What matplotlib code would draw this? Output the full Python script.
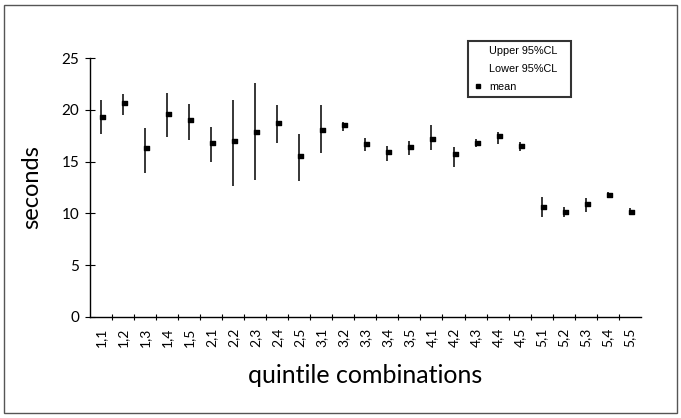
import matplotlib.pyplot as plt
import numpy as np
from matplotlib.path import Path
from matplotlib.lines import Line2D
from matplotlib.patches import Rectangle

# combinaisons de quintiles
labels = ["1,1", "1,2", "1,3", "1,4", "1,5",
          "2,1", "2,2", "2,3", "2,4", "2,5",
          "3,1", "3,2", "3,3", "3,4", "3,5",
          "4,1", "4,2", "4,3", "4,4", "4,5",
          "5,1", "5,2", "5,3", "5,4", "5,5"]

mean = [19.3, 20.7, 16.3, 19.6, 19.0,
        16.8, 17.0, 17.9, 18.7, 15.5,
        18.1, 18.5, 16.7, 15.9, 16.4,
        17.2, 15.7, 16.8, 17.5, 16.5,
        10.6, 10.1, 10.9, 11.8, 10.1]

upper = [21.0, 21.5, 18.2, 21.6, 20.6,
         18.3, 21.0, 22.6, 20.5, 17.7,
         20.5, 18.8, 17.3, 16.5, 17.0,
         18.5, 16.4, 17.2, 17.9, 16.9,
         11.6, 10.6, 11.5, 12.1, 10.5]

lower = [17.7, 19.5, 13.9, 17.4, 17.1,
         15.0, 12.6, 13.2, 16.8, 13.1,
         15.8, 18.0, 16.0, 15.1, 15.6,
         16.1, 14.5, 16.4, 16.7, 16.0,
         9.6, 9.6, 10.1, 11.5, 9.8]

x = np.arange(len(labels))

fig = plt.figure(figsize=(6.81, 4.18), dpi=100)
ax = fig.add_axes([0.132, 0.242, 0.809, 0.619])

# barres haut-bas
ax.vlines(x, lower, upper, color="black", lw=1.1)

# marqueur moyenne decale a droite (style excel)
verts = [(-0.2, -0.4), (1.0, -0.4), (1.0, 0.4), (-0.2, 0.4), (-0.2, -0.4)]
mk = Path(verts, [Path.MOVETO, Path.LINETO, Path.LINETO, Path.LINETO, Path.CLOSEPOLY])
ax.plot(x, mean, linestyle="none", marker=mk, markersize=6, color="black")

ax.set_xlim(-0.5, 24.5)
ax.set_ylim(0, 25)
ax.set_yticks([0, 5, 10, 15, 20, 25])
ax.set_xticks(x)
ax.set_xticklabels(labels, rotation=90, fontsize=10, family="Lato")
ax.set_xticks(np.arange(0.5, 24.5, 1), minor=True)
ax.tick_params(axis="x", which="major", length=0, pad=8)
ax.tick_params(axis="x", which="minor", direction="inout", length=5, width=0.8)
ax.tick_params(axis="y", direction="inout", length=7, width=0.8, labelsize=11, pad=4)
for t in ax.get_yticklabels():
    t.set_family("Lato")

ax.spines["top"].set_visible(False)
ax.spines["right"].set_visible(False)
ax.spines["left"].set_linewidth(1.0)
ax.spines["bottom"].set_linewidth(1.0)

ax.set_ylabel("seconds", fontsize=17, family="Lato", labelpad=14)
ax.set_xlabel("quintile combinations", fontsize=18, family="Lato", labelpad=12)

# legende
h_up = Line2D([], [], linestyle="none")
h_lo = Line2D([], [], linestyle="none")
h_mean = Line2D([], [], linestyle="none", marker="s", markersize=3, color="black")
leg = fig.legend([h_up, h_lo, h_mean], ["Upper 95%CL   ", "Lower 95%CL   ", "mean"],
                 loc="upper left", bbox_to_anchor=(0.687, 0.902),
                 prop={"family": "Liberation Sans", "size": 7.8},
                 frameon=True, fancybox=False, labelspacing=0.75,
                 handlelength=1.0, handletextpad=0.5, borderpad=0.45,
                 borderaxespad=0)
leg.get_frame().set_edgecolor("black")
leg.get_frame().set_linewidth(1.5)

# cadre exterieur
fig.patches.append(Rectangle((0.006, 0.012), 0.988, 0.975, transform=fig.transFigure,
                             fill=False, edgecolor="#555555", lw=1.0))

fig.savefig("out.png", dpi=100)
